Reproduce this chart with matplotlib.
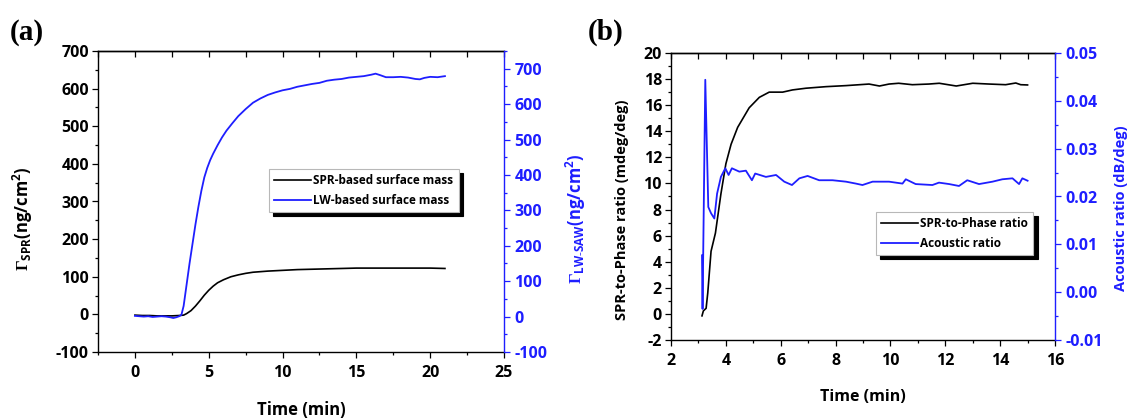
import matplotlib.pyplot as plt
from matplotlib.ticker import MultipleLocator, FormatStrFormatter

plt.rcParams['font.family'] = ['Open Sans', 'DejaVu Sans']
plt.rcParams['font.weight'] = 'bold'
plt.rcParams['axes.labelweight'] = 'bold'
plt.rcParams['axes.unicode_minus'] = False
plt.rcParams['mathtext.fontset'] = 'custom'
plt.rcParams['mathtext.rm'] = 'Liberation Serif'
plt.rcParams['mathtext.bf'] = 'Open Sans:bold'

BLUE = '#1e1eff'

# (a) surface mass
T_SPR = [0, 0.5, 1, 1.5, 2, 2.5, 3, 3.3, 3.5, 3.8, 4.1, 4.4, 4.7, 5.0, 5.3, 5.6,
         6.0, 6.5, 7, 7.5, 8, 9, 10, 11, 12, 13, 14, 15, 16, 17, 18, 19, 20, 21]
SPR_MASS = [-2, -3, -3, -4, -4, -4, -3, -2, 2, 10, 22, 36, 51, 64, 75, 84,
            92, 100, 105, 109, 112, 115, 117, 119, 120, 121, 122, 123, 123, 123, 123, 123, 123, 122]

T_LW = [0, 0.3, 0.6, 0.9, 1.2, 1.5, 1.8, 2.1, 2.4, 2.6, 2.8, 3.0, 3.15, 3.3, 3.5, 3.7,
        3.9, 4.1, 4.3, 4.5, 4.7, 4.9, 5.1, 5.3, 5.6, 5.9, 6.2, 6.6, 7.0, 7.5, 8.0, 8.5,
        9.0, 9.5, 10, 10.5, 11, 11.5, 12, 12.5, 13, 13.5, 14, 14.5, 15, 15.5, 16, 16.3,
        16.6, 17, 17.5, 18, 18.5, 19, 19.3, 19.6, 20, 20.5, 21]
LW_MASS = [2, 1, 0, 1, -1, 0, 1, 0, -2, -4, -2, 1, 5, 30, 90, 150,
           205, 260, 310, 355, 393, 420, 442, 460, 484, 506, 525, 546, 566, 586, 604, 616,
           626, 633, 639, 643, 649, 653, 657, 660, 666, 669, 671, 675, 677, 679, 683, 686,
           682, 676, 676, 677, 675, 671, 670, 674, 677, 676, 679]

# (b) ratios
T_RATIO = [3.13, 3.18, 3.28, 3.34, 3.46, 3.62, 3.82, 4.0, 4.19, 4.43, 4.85, 5.22, 5.58,
           6.07, 6.43, 6.92, 7.65, 8.38, 9.22, 9.6, 9.95, 10.3, 10.8, 11.4, 11.78, 12.4,
           13.0, 13.6, 14.2, 14.57, 14.75, 15.0]
SPR_PHASE = [-0.15, 0.23, 0.43, 1.6, 4.8, 6.2, 9.2, 11.5, 13.0, 14.3, 15.8, 16.6, 17.0,
             17.0, 17.17, 17.3, 17.42, 17.5, 17.62, 17.47, 17.62, 17.68, 17.57, 17.62, 17.68, 17.47,
             17.68, 17.62, 17.57, 17.7, 17.57, 17.55]

T_AC = [3.13, 3.15, 3.25, 3.36, 3.46, 3.58, 3.68, 3.82, 3.98, 4.1, 4.22, 4.49, 4.73, 4.95,
        5.07, 5.46, 5.83, 6.13, 6.41, 6.68, 6.98, 7.4, 7.89, 8.38, 8.74, 8.98, 9.35, 9.95,
        10.44, 10.56, 10.92, 11.53, 11.77, 12.14, 12.5, 12.8, 13.23, 13.72, 14.08, 14.45,
        14.69, 14.81, 15.0]
ACOUSTIC = [0.0077, -0.0035, 0.0444, 0.0178, 0.0165, 0.0154, 0.0206, 0.0241, 0.0259, 0.0245,
            0.0259, 0.0252, 0.0254, 0.0234, 0.0248, 0.0241, 0.0245, 0.0231, 0.0224, 0.0238,
            0.0243, 0.0234, 0.0234, 0.0231, 0.0227, 0.0224, 0.0231, 0.0231, 0.0227, 0.0236,
            0.0226, 0.0224, 0.0229, 0.0226, 0.0222, 0.0234, 0.0226, 0.0231, 0.0236, 0.0238,
            0.0226, 0.0238, 0.0233]

W, H = 1129, 419
fig = plt.figure(figsize=(W / 100, H / 100), dpi=100)


def px_axes(x0, y0, x1, y1):
    return fig.add_axes([x0 / W, 1 - y1 / H, (x1 - x0) / W, (y1 - y0) / H])


def style(ax, ax2, xmaj, xmin, ymaj, ymin, y2maj, y2min):
    for s in ['left', 'right', 'top', 'bottom']:
        ax.spines[s].set_linewidth(1.0)
        ax2.spines[s].set_visible(s == 'right')
    ax.spines['right'].set_visible(False)
    ax2.spines['right'].set_color(BLUE)
    ax2.spines['right'].set_linewidth(1.0)
    ax.xaxis.set_major_locator(MultipleLocator(xmaj))
    ax.xaxis.set_minor_locator(MultipleLocator(xmin))
    ax.yaxis.set_major_locator(MultipleLocator(ymaj))
    ax.yaxis.set_minor_locator(MultipleLocator(ymin))
    ax2.yaxis.set_major_locator(MultipleLocator(y2maj))
    ax2.yaxis.set_minor_locator(MultipleLocator(y2min))
    ax.tick_params(axis='both', which='major', direction='out', length=4.5, width=0.9, labelsize=11.5)
    ax.tick_params(axis='both', which='minor', direction='out', length=2.5, width=0.9)
    ax.tick_params(axis='x', which='major', pad=5)
    ax.tick_params(axis='y', which='major', pad=2)
    ax2.tick_params(axis='y', which='major', direction='out', length=4.5, width=0.9,
                    labelsize=11.5, colors=BLUE, pad=3)
    ax2.tick_params(axis='y', which='minor', direction='out', length=2.5, width=0.9, colors=BLUE)
    for lab in ax.get_xticklabels() + ax.get_yticklabels() + ax2.get_yticklabels():
        lab.set_fontweight('bold')
    top = ax.secondary_xaxis('top')
    top.xaxis.set_major_locator(MultipleLocator(xmaj))
    top.xaxis.set_minor_locator(MultipleLocator(xmin))
    top.tick_params(which='both', direction='in', length=4, width=0.9, labeltop=False)
    top.spines['top'].set_linewidth(1.0)


def legend(ax, handles, labels, x, y):
    leg = ax.legend(handles, labels, loc='upper left', bbox_to_anchor=(x / W, 1 - y / H),
                    bbox_transform=fig.transFigure, fontsize=8.5, frameon=True, fancybox=False,
                    edgecolor='#b8b8b8', framealpha=1, borderaxespad=0, borderpad=0.45,
                    handlelength=3.1, handletextpad=0.2, labelspacing=0.55,
                    prop={'weight': 'bold', 'size': 8.5},
                    shadow={'ox': 3, 'oy': -3, 'color': 'black', 'alpha': 1})
    leg.get_frame().set_linewidth(0.8)
    return leg


# ---------- panel (a)
axa = px_axes(98, 51, 504, 352)
axa2 = axa.twinx()
l1, = axa.plot(T_SPR, SPR_MASS, color='black', lw=1.2)
l2, = axa2.plot(T_LW, LW_MASS, color=BLUE, lw=1.3)
axa.set_xlim(-2.5, 25)
axa.set_ylim(-100, 700)
axa2.set_ylim(-100, 750)
style(axa, axa2, 5, 2.5, 100, 50, 100, 50)
axa.set_xlabel('Time (min)', fontsize=12, fontweight='bold', labelpad=14)
legend(axa2, [l1, l2], ['SPR-based surface mass', 'LW-based surface mass'], 269, 169)

fig.text(23 / W, 1 - 219 / H, r'$\Gamma_{\mathbf{SPR}}$(ng/cm$^{\mathbf{2}}$)', rotation=90,
         ha='center', va='center', fontsize=12, fontweight='bold')
fig.text(576 / W, 1 - 219 / H, r'$\Gamma_{\mathbf{LW\text{-}SAW}}$(ng/cm$^{\mathbf{2}}$)', rotation=90,
         ha='center', va='center', fontsize=12, fontweight='bold', color=BLUE)
fig.text(27 / W, 1 - 32 / H, '(a)', family='Liberation Serif', fontsize=21,
         fontweight='bold', ha='center', va='center')

# ---------- panel (b)
axb = px_axes(671, 53, 1055, 340)
axb2 = axb.twinx()
m1, = axb.plot(T_RATIO, SPR_PHASE, color='black', lw=1.2)
m2, = axb2.plot(T_AC, ACOUSTIC, color=BLUE, lw=1.3)
axb.set_xlim(2, 16)
axb.set_ylim(-2, 20)
axb2.set_ylim(-0.01, 0.05)
style(axb, axb2, 2, 1, 2, 1, 0.01, 0.005)
axb2.yaxis.set_major_formatter(FormatStrFormatter('%.2f'))
axb.set_xlabel('Time (min)', fontsize=11.5, fontweight='bold', labelpad=14)
legend(axb2, [m1, m2], ['SPR-to-Phase ratio', 'Acoustic ratio'], 876, 212)

fig.text(622 / W, 1 - 210 / H, 'SPR-to-Phase ratio (mdeg/deg)', rotation=90,
         ha='center', va='center', fontsize=10.5, fontweight='bold')
fig.text(1121 / W, 1 - 208 / H, 'Acoustic ratio (dB/deg)', rotation=90,
         ha='center', va='center', fontsize=10.5, fontweight='bold', color=BLUE)
fig.text(606 / W, 1 - 32 / H, '(b)', family='Liberation Serif', fontsize=21,
         fontweight='bold', ha='center', va='center')

fig.savefig('out.png', dpi=100)
